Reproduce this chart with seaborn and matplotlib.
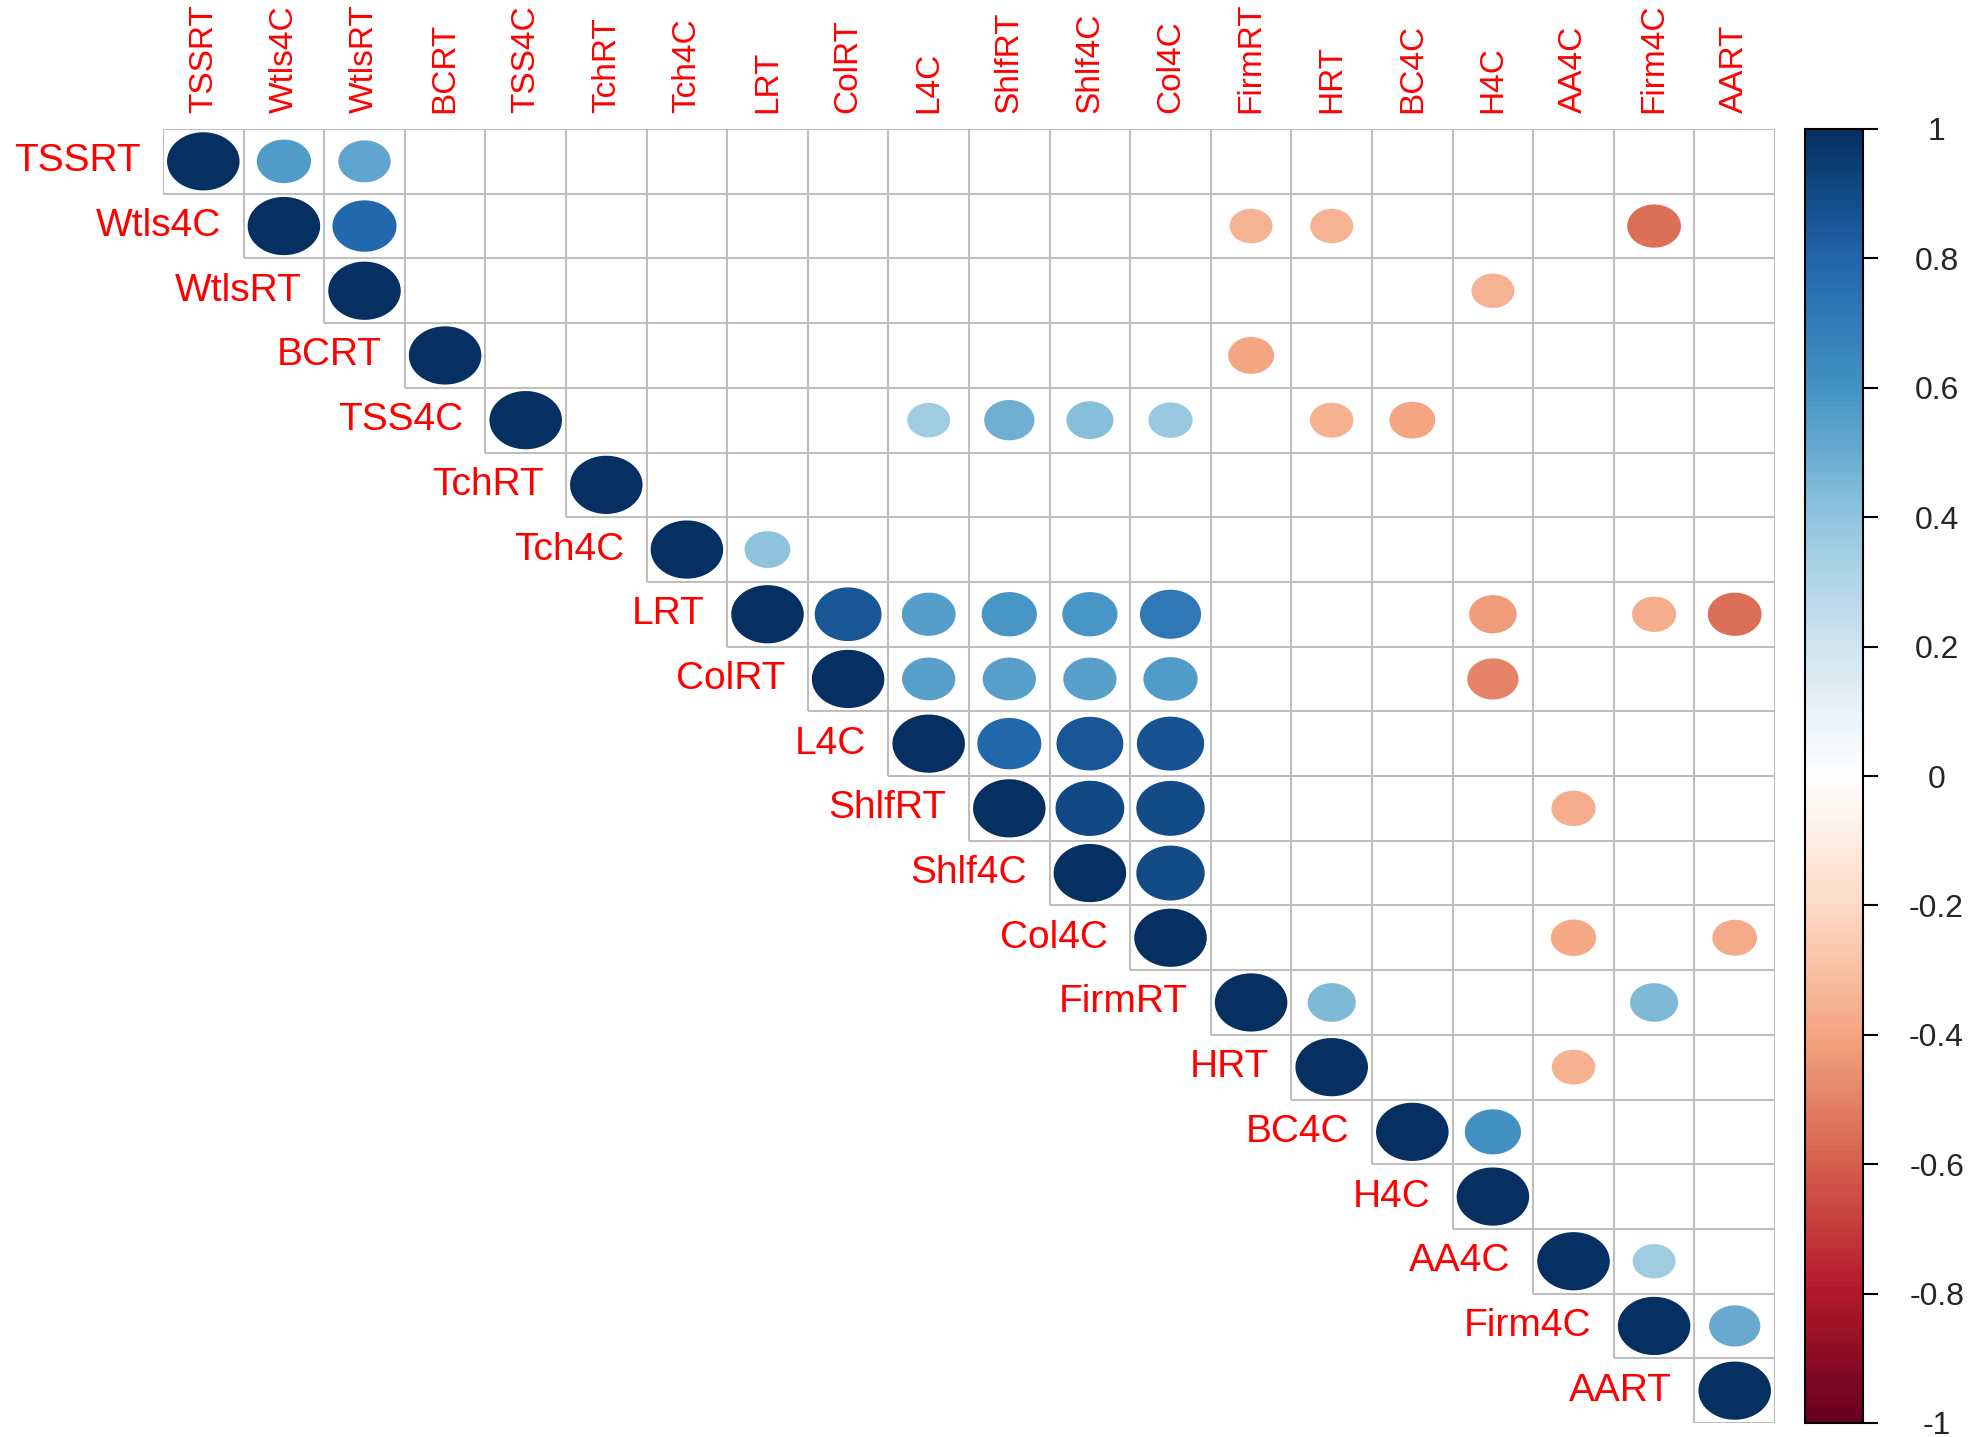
import numpy as np
import pandas as pd
import matplotlib
matplotlib.use("Agg")
import matplotlib.pyplot as plt
from matplotlib.colors import LinearSegmentedColormap, ListedColormap, Normalize
from matplotlib.path import Path
import seaborn as sns

variables = ['TSSRT', 'Wtls4C', 'WtlsRT', 'BCRT', 'TSS4C', 'TchRT', 'Tch4C', 'LRT',
             'ColRT', 'L4C', 'ShlfRT', 'Shlf4C', 'Col4C', 'FirmRT', 'HRT', 'BC4C',
             'H4C', 'AA4C', 'Firm4C', 'AART']

# off-diagonal correlations shown in the upper triangle (all others blank)
row_var = ['TSSRT', 'TSSRT',
           'Wtls4C', 'Wtls4C', 'Wtls4C', 'Wtls4C',
           'WtlsRT', 'BCRT',
           'TSS4C', 'TSS4C', 'TSS4C', 'TSS4C', 'TSS4C', 'TSS4C',
           'Tch4C',
           'LRT', 'LRT', 'LRT', 'LRT', 'LRT', 'LRT', 'LRT', 'LRT',
           'ColRT', 'ColRT', 'ColRT', 'ColRT', 'ColRT',
           'L4C', 'L4C', 'L4C',
           'ShlfRT', 'ShlfRT', 'ShlfRT',
           'Shlf4C',
           'Col4C', 'Col4C',
           'FirmRT', 'FirmRT',
           'HRT', 'BC4C', 'AA4C', 'Firm4C']
col_var = ['Wtls4C', 'WtlsRT',
           'WtlsRT', 'FirmRT', 'HRT', 'Firm4C',
           'H4C', 'FirmRT',
           'L4C', 'ShlfRT', 'Shlf4C', 'Col4C', 'HRT', 'BC4C',
           'LRT',
           'ColRT', 'L4C', 'ShlfRT', 'Shlf4C', 'Col4C', 'H4C', 'Firm4C', 'AART',
           'L4C', 'ShlfRT', 'Shlf4C', 'Col4C', 'H4C',
           'ShlfRT', 'Shlf4C', 'Col4C',
           'Shlf4C', 'Col4C', 'AA4C',
           'Col4C',
           'AA4C', 'AART',
           'HRT', 'Firm4C',
           'AA4C', 'H4C', 'Firm4C', 'AART']
corr_val = [0.56, 0.52,
            0.78, -0.35, -0.35, -0.55,
            -0.35, -0.40,
            0.35, 0.48, 0.42, 0.37, -0.36, -0.40,
            0.40,
            0.85, 0.55, 0.58, 0.58, 0.71, -0.43, -0.37, -0.55,
            0.54, 0.54, 0.54, 0.56, -0.50,
            0.78, 0.85, 0.86,
            0.90, 0.89, -0.37,
            0.89,
            -0.39, -0.38,
            0.44, 0.44,
            -0.36, 0.60, 0.35, 0.50]

n = len(variables)
idx = {v: i for i, v in enumerate(variables)}
corr = np.eye(n)
for a, b, r in zip(row_var, col_var, corr_val):
    corr[idx[a], idx[b]] = r

rows, cols = np.triu_indices(n)
df = pd.DataFrame({'x': cols + 0.5, 'y': rows + 0.5, 'r': corr[rows, cols]})
df = df[df['r'] != 0]
df['absr'] = df['r'].abs()

cmap = LinearSegmentedColormap.from_list(
    'corrRdBu', ["#67001F", "#B2182B", "#D6604D", "#F4A582", "#FDDBC7", "#FFFFFF",
                 "#D1E5F0", "#92C5DE", "#4393C3", "#2166AC", "#053061"], N=200)

sns.set_style('white')
plt.rcParams['font.family'] = ['Liberation Sans', 'DejaVu Sans']

W, H = 1969, 1437
fig = plt.figure(figsize=(W / 100, H / 100), dpi=100)
gx0, gx1, gy0, gy1 = 163, 1775, 129, 1423
ax = fig.add_axes([gx0 / W, (H - gy1) / H, (gx1 - gx0) / W, (gy1 - gy0) / H])

mask = np.tril(np.ones((n, n), dtype=bool), k=-1)
sns.heatmap(pd.DataFrame(np.zeros((n, n))), mask=mask, cmap=ListedColormap(['white']),
            cbar=False, xticklabels=False, yticklabels=False, ax=ax)

# staircase grid around the upper-triangle cells only
grid_kw = dict(color='#BEBEBE', linewidth=1.5, zorder=1)
for k in range(n + 1):
    ax.hlines(k, max(k - 1, 0) if k < n else n - 1, n, **grid_kw)
    ax.vlines(k, 0, min(k + 1, n), **grid_kw)

# ellipse marker shaped like a cell (cells are wider than tall)
cell_w = (gx1 - gx0) / n
cell_h = (gy1 - gy0) / n
t = np.linspace(0, 2 * np.pi, 80)
ellipse = Path(np.column_stack([np.cos(t), (cell_h / cell_w) * np.sin(t)]))
dmax = 0.9 * cell_w * 0.72  # points
sns.scatterplot(data=df, x='x', y='y', hue='r', size='absr', palette=cmap,
                hue_norm=(-1, 1), size_norm=(0, 1), sizes=(0, dmax ** 2),
                marker=ellipse, linewidth=0, legend=False, zorder=2, ax=ax)
ax.set_xlim(0, n)
ax.set_ylim(n, 0)
ax.set_xlabel('')
ax.set_ylabel('')
for s in ax.spines.values():
    s.set_visible(False)

for i, v in enumerate(variables):
    ax.text(i - 0.28, i + 0.5, v, color='#FF0000', fontsize=28, ha='right',
            va='center', clip_on=False)
    ax.text(i + 0.5, -0.25, v, color='#FF0000', fontsize=24, ha='center',
            va='bottom', rotation=90, clip_on=False)

cax = fig.add_axes([1805 / W, (H - gy1) / H, 58 / W, (gy1 - gy0) / H])
ticks = [1, 0.8, 0.6, 0.4, 0.2, 0, -0.2, -0.4, -0.6, -0.8, -1]
tick_labels = ['1', '0.8', '0.6', '0.4', '0.2', '0', '-0.2', '-0.4', '-0.6', '-0.8', '-1']
cb = fig.colorbar(plt.cm.ScalarMappable(norm=Normalize(-1, 1), cmap=cmap), cax=cax,
                  ticks=ticks)
cb.outline.set_edgecolor('black')
cb.outline.set_linewidth(1.5)
cax.set_yticklabels(tick_labels)
cax.tick_params(axis='y', direction='out', length=11, width=1.5, color='black',
                labelsize=23, pad=42)
for lab in cax.get_yticklabels():
    lab.set_horizontalalignment('center')

fig.savefig('out.png', dpi=100)
